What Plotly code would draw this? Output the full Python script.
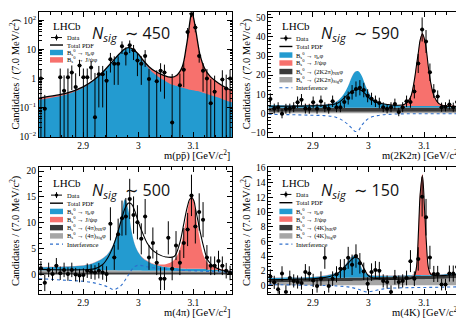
import plotly.graph_objects as go

# The page is shown with an 8 px body margin, so the figure is drawn 8 px smaller
# and every layout position below is given in screenshot pixels minus that margin.
SCREEN_W, SCREEN_H = 464, 323
MARGIN = 8
W, H = SCREEN_W - MARGIN, SCREEN_H - MARGIN
SERIF = "Liberation Serif"
SANS = "Open Sans, DejaVu Sans"

# ---------------- histogram binning (2.82-3.17 GeV, 7 MeV bins) ----------------
BIN_LO = 2.82
BIN_W = 0.007
NBINS = 50
BIN_CENTERS = [round(BIN_LO + BIN_W * (k + 0.5), 4) for k in range(NBINS)]

# ---------------- panel 1 : m(p pbar), log scale ----------------
P1_DATA = [1.0, 0.09, None, None, None, 1.1, 0.38, 1.1, 1.6, 0.51,
           2.8, 1.1, 1.1, 2.4, 0.046, 1.4, 1.4, 0.84, 4.6, 3.2,
           3.2, 13, 7.3, 14, 9.3, 4.2, 3.2, 6.0, 0.95, None,
           0.8, 1.85, 1.6, None, 0.03, None, 0.58, 2.0, 40, 170,
           57, 6.0, 1.85, 1.0, 0.14, 0.35, None, 0.92, 0.45, 1.0]
P1_ERR = [1.0, 0.18, 0, 0, 0, 1.1, 0.9, 1.1, 1.2, 1.0,
          1.6, 1.1, 1.1, 1.5, 1.5, 1.3, 1.3, 1.0, 3.0, 2.6,
          2.6, 6.0, 4.5, 6.5, 5.0, 3.0, 2.6, 3.5, 1.2, 0,
          1.1, 1.5, 1.4, 0, 1.4, 0, 0.9, 1.5, 15, 40,
          18, 2.5, 1.5, 1.1, 0.8, 0.9, 0, 1.0, 0.9, 1.0]
P1_M = [2.820, 2.850, 2.870, 2.900, 2.920, 2.935, 2.950, 2.965, 2.975, 2.982,
        2.990, 3.000, 3.010, 3.020, 3.030, 3.045, 3.060, 3.070, 3.080, 3.087,
        3.091, 3.094, 3.097, 3.100, 3.103, 3.107, 3.112, 3.120, 3.130, 3.145,
        3.160, 3.170]
P1_TOTAL = [0.21, 0.26, 0.31, 0.51, 0.9, 1.6, 3.3, 6.8, 10.3, 11.5,
            10.3, 7.0, 4.0, 2.5, 1.8, 1.3, 1.1, 1.3, 2.6, 12,
            38, 100, 195, 130, 65, 22, 6.5, 2.3, 1.2, 0.7,
            0.47, 0.38]
P1_ETAC = [0.18, 0.23, 0.28, 0.48, 0.87, 1.56, 3.2, 6.7, 10.1, 11.3,
           10.0, 6.6, 3.6, 2.1, 1.4, 0.9, 0.62, 0.55, 0.48, 0.44,
           0.42, 0.41, 0.40, 0.39, 0.38, 0.37, 0.35, 0.31, 0.27, 0.22,
           0.17, 0.15]
P1_YTICKS = [0.01, 0.1, 1, 10, 100]
P1_YTICKTEXT = ["10<sup>\u22122</sup>", "10<sup>\u22121</sup>", "1", "10", "10<sup>2</sup>"]

# ---------------- common mass grid for fitted curves of panels 2-4 ----------------
G = [2.820, 2.840, 2.860, 2.880, 2.900, 2.920, 2.935, 2.945, 2.955, 2.963,
     2.970, 2.976, 2.982, 2.988, 2.994, 3.000, 3.008, 3.016, 3.025, 3.035,
     3.050, 3.065, 3.075, 3.082, 3.086, 3.090, 3.093, 3.097, 3.101, 3.104,
     3.108, 3.112, 3.118, 3.126, 3.135, 3.150, 3.170]

# ---------------- panel 2 : m(2K2pi) ----------------
P2_DATA = [7.5, 2.5, 3.2, -0.2, 2.4, 2.5, 3.2, 5.8, 7.1, 2.5,
           2.4, 5.8, 2.4, 6.3, 3.2, 2.4, 6.3, 3.2, 3.2, 6.0,
           8.0, 11.0, 12.7, 13.4, 12.2, 9.2, 7.6, 6.3, 5.4, 3.2,
           2.4, 3.2, 4.9, 0.7, 3.2, 6.3, 5.9, 11.4, 26.1, 43.9,
           37.6, 21.5, 11.7, 8.8, 3.2, 3.4, 4.6, 3.2, 5.9, 2.5]
P2_ERR = [3.0, 2.6, 2.6, 2.4, 2.6, 2.6, 2.6, 3.0, 3.0, 2.6,
          2.6, 3.0, 2.6, 3.0, 2.6, 2.6, 3.0, 2.6, 2.6, 3.2,
          3.4, 3.8, 4.0, 4.0, 3.8, 3.4, 3.2, 3.0, 2.8, 2.6,
          2.4, 2.6, 2.8, 2.2, 2.6, 3.0, 3.0, 3.6, 5.0, 6.3,
          6.0, 4.6, 3.6, 3.2, 2.4, 2.4, 2.6, 2.4, 2.8, 2.4]
P2_SIG = [0.8] * 37
P2_NR = [2.9, 2.9, 2.9, 2.9, 2.9, 2.9, 2.9, 2.9, 2.9, 2.9,
         2.9, 2.9, 2.9, 2.9, 2.95, 2.95, 2.95, 2.95, 2.95, 2.95,
         2.95, 3.0, 3.0, 3.0, 3.0, 3.0, 3.0, 3.0, 3.0, 3.0,
         3.0, 3.0, 3.0, 3.0, 3.0, 3.0, 3.0]
P2_ETAC = [4.2, 4.2, 4.25, 4.3, 4.4, 4.6, 5.3, 6.6, 9.8, 14.0,
           19.0, 21.8, 22.0, 19.5, 15.0, 11.2, 7.6, 6.0, 5.1, 4.6,
           4.2, 4.0, 3.9, 3.8, 3.8, 3.8, 3.8, 3.8, 3.8, 3.8,
           3.8, 3.8, 3.8, 3.8, 3.8, 3.9, 4.0]
P2_JPSI = [4.3, 4.3, 4.35, 4.4, 4.5, 4.7, 5.4, 6.7, 9.9, 14.1,
           19.1, 21.9, 22.1, 19.6, 15.1, 11.3, 7.7, 6.1, 5.2, 4.7,
           4.4, 4.9, 8.5, 17, 25, 33, 39, 42, 39, 34,
           24, 16.5, 9.5, 5.5, 4.4, 4.1, 4.1]
P2_TOTAL = [3.7, 3.7, 3.75, 3.8, 3.9, 4.1, 4.6, 5.4, 7.7, 9.8,
            11.6, 12.4, 12.6, 11.8, 10.3, 8.3, 6.8, 5.7, 5.0, 4.6,
            4.2, 4.7, 8.0, 16.5, 24.5, 32.5, 38.5, 41.5, 38.5, 33.5,
            23.5, 16.0, 9.0, 5.2, 4.0, 3.6, 3.4]
P2_INTERF = [-0.5, -0.6, -0.7, -0.85, -1.0, -1.2, -1.6, -2.4, -4.0, -5.8,
             -7.8, -9.5, -9.0, -6.2, -4.2, -2.7, -1.7, -1.2, -0.8, -0.55,
             -0.35, -0.25, -0.2, -0.2, -0.2, -0.2, -0.2, -0.2, -0.2, -0.2,
             -0.2, -0.2, -0.2, -0.2, -0.2, -0.2, -0.2]

# ---------------- panel 3 : m(4pi) ----------------
P3_DATA = [1.2, -1.6, 0.9, 0.1, 1.7, 0.25, 0.9, 0.1, 0.9, 0.0,
           -0.2, -0.1, 0.75, 0.55, 0.4, 0.75, 0.4, 0.1, 9.8, 3.3,
           7.8, 10.9, 11.2, 14.6, 11.5, 10.1, 6.9, 11.2, 3.3, 6.1,
           2.3, -0.8, -0.8, 7.1, 1.1, 5.6, 2.3, 6.1, 8.7, 15.3,
           9.3, 12.1, 10.6, 3.3, 1.7, 1.7, 2.6, 1.7, 0.75, 0.3]
P3_ERR = [1.4, 1.6, 1.4, 1.3, 1.5, 1.3, 1.4, 1.3, 1.4, 1.3,
          1.3, 1.3, 1.4, 1.4, 1.4, 1.5, 1.4, 1.5, 3.2, 2.4,
          3.0, 3.4, 3.6, 3.9, 3.6, 3.3, 3.0, 3.4, 2.4, 3.0,
          2.4, 2.2, 2.2, 3.2, 2.2, 2.8, 2.4, 2.9, 3.2, 4.0,
          3.3, 3.6, 3.4, 2.4, 1.8, 1.8, 2.0, 1.8, 1.5, 1.4]
P3_NR = [0.45] * 37
P3_SIG = [0.85, 0.85, 0.84, 0.84, 0.83, 0.82, 0.82, 0.81, 0.81, 0.8,
          0.8, 0.79, 0.79, 0.78, 0.78, 0.77, 0.76, 0.75, 0.74, 0.73,
          0.72, 0.7, 0.69, 0.68, 0.68, 0.67, 0.67, 0.66, 0.66, 0.66,
          0.65, 0.65, 0.64, 0.63, 0.62, 0.61, 0.6]
P3_ETAC = [1.4, 1.45, 1.5, 1.6, 1.75, 2.3, 3.1, 4.0, 5.9, 8.5,
           11.8, 14.6, 12.5, 8.3, 5.7, 4.3, 3.2, 2.6, 2.1, 1.8,
           1.45, 1.3, 1.2, 1.15, 1.1, 1.1, 1.1, 1.1, 1.1, 1.1,
           1.1, 1.1, 1.1, 1.0, 0.95, 0.85, 0.75]
P3_JPSI = [1.45, 1.5, 1.55, 1.65, 1.8, 2.35, 3.15, 4.05, 5.95, 8.55,
           11.85, 14.65, 12.55, 8.35, 5.75, 4.35, 3.3, 2.7, 2.2, 2.0,
           2.0, 2.8, 4.8, 8.0, 10.3, 12.8, 14.3, 15.3, 14.0, 11.6,
           9.0, 6.6, 3.8, 2.2, 1.5, 1.05, 0.8]
P3_TOTAL = [1.0, 0.95, 0.9, 0.9, 0.92, 1.1, 1.9, 3.3, 5.6, 8.2,
            10.8, 12.8, 13.8, 13.6, 12.2, 10.2, 8.0, 6.1, 4.8, 4.0,
            3.4, 3.5, 6.0, 9.5, 11.7, 13.5, 14.5, 14.9, 14.2, 12.6,
            10.5, 8.4, 5.6, 2.8, 1.7, 0.9, 0.45]
P3_INTERF = [-0.8, -0.9, -1.05, -1.15, -1.3, -1.6, -2.0, -2.4, -2.9, -2.6,
             -2.0, -1.1, -0.1, 0.9, 1.55, 1.8, 1.7, 1.5, 1.35, 1.2,
             1.05, 0.95, 0.85, 0.8, 0.78, 0.76, 0.75, 0.74, 0.73, 0.72,
             0.7, 0.68, 0.65, 0.6, 0.56, 0.5, 0.45]

# ---------------- panel 4 : m(4K) ----------------
P4_DATA = [1.2, 0.4, -0.55, 1.6, -0.9, 1.0, 0.6, 0.45, 0.3, 1.8,
           1.6, 0.67, -0.1, 0.9, 3.75, -0.1, 0.9, 1.5, 2.25, 2.3,
           3.75, 2.8, 4.0, 3.0, 1.9, 0.2, 1.8, 2.1, 2.0, 0.6,
           0.45, -0.9, 1.1, 0.45, 0.6, 1.0, 3.3, 0.9, 3.6, 12.1,
           9.3, 3.8, 1.55, 1.55, 0.1, 0.1, 1.6, 1.6, 2.5, 2.8]
P4_ERR = [1.0, 0.9, 0.9, 1.0, 0.9, 1.0, 0.9, 0.9, 0.9, 1.1,
          1.0, 0.9, 0.9, 1.0, 1.5, 0.9, 1.0, 1.1, 1.3, 1.3,
          1.5, 1.4, 1.6, 1.4, 1.2, 0.9, 1.2, 1.2, 1.2, 0.9,
          0.9, 0.9, 1.0, 0.9, 0.9, 1.0, 1.5, 1.0, 1.6, 2.7,
          2.5, 1.6, 1.1, 1.1, 0.8, 0.8, 1.1, 1.1, 1.3, 1.4]
P4_SIG = [0.4, 0.42, 0.45, 0.48, 0.5, 0.53, 0.55, 0.57, 0.58, 0.59,
          0.6, 0.61, 0.62, 0.63, 0.64, 0.65, 0.66, 0.68, 0.7, 0.72,
          0.75, 0.78, 0.8, 0.81, 0.82, 0.83, 0.83, 0.84, 0.84, 0.85,
          0.85, 0.86, 0.87, 0.89, 0.91, 0.95, 1.0]
P4_NR = [0.85, 0.87, 0.9, 0.93, 0.95, 0.98, 1.0, 1.02, 1.03, 1.04,
         1.05, 1.06, 1.07, 1.08, 1.09, 1.1, 1.11, 1.13, 1.15, 1.17,
         1.2, 1.23, 1.25, 1.26, 1.27, 1.28, 1.28, 1.29, 1.29, 1.3,
         1.3, 1.31, 1.32, 1.34, 1.36, 1.4, 1.45]
P4_ETAC = [1.0, 1.02, 1.05, 1.08, 1.12, 1.3, 1.55, 1.7, 2.45, 3.3,
           3.9, 4.1, 3.6, 2.3, 1.7, 1.45, 1.35, 1.32, 1.3, 1.3,
           1.32, 1.35, 1.37, 1.38, 1.39, 1.4, 1.4, 1.41, 1.41, 1.42,
           1.42, 1.43, 1.44, 1.46, 1.5, 1.58, 1.7]
P4_JPSI = [1.03, 1.05, 1.08, 1.11, 1.15, 1.33, 1.58, 1.73, 2.48, 3.33,
           3.93, 4.13, 3.63, 2.33, 1.73, 1.48, 1.38, 1.35, 1.33, 1.33,
           1.35, 1.38, 1.41, 1.5, 2.6, 8.0, 13.0, 15.2, 10.4, 6.4,
           2.5, 1.7, 1.5, 1.49, 1.53, 1.61, 1.73]
P4_TOTAL = [0.75, 0.78, 0.82, 0.86, 0.9, 1.05, 1.3, 1.65, 2.35, 3.0,
            3.55, 3.85, 3.65, 2.9, 2.0, 1.3, 1.0, 0.92, 0.88, 0.85,
            0.82, 0.85, 0.9, 1.2, 2.3, 7.5, 12.5, 15.0, 10.2, 6.0,
            2.3, 1.5, 1.35, 1.3, 1.32, 1.4, 1.55]
P4_INTERF = [0.1, 0.08, 0.05, 0.02, 0.0, -0.03, -0.05, -0.1, -0.15, -0.22,
             -0.3, -0.42, -0.55, -0.72, -0.88, -0.9, -0.8, -0.65, -0.52, -0.42,
             -0.36, -0.33, -0.32, -0.31, -0.31, -0.3, -0.3, -0.3, -0.3, -0.3,
             -0.29, -0.29, -0.28, -0.27, -0.25, -0.23, -0.2]

# ---------------- text ----------------
NSIG = ["450", "590", "500", "150"]
XTITLES = ["m(pp\u0304) [GeV/c<sup>2</sup>]", "m(2K2\u03c0) [GeV/c<sup>2</sup>]",
           "m(4\u03c0) [GeV/c<sup>2</sup>]", "m(4K) [GeV/c<sup>2</sup>]"]
YTITLE = "Candidates / (7.0 MeV/c<sup>2</sup>)"
FINALS = [None, "2K2\u03c0", "4\u03c0", "4K"]
BS = "B<sub>s</sub><sup>0</sup> \u2192 "
TILDE = "<span style='font-family:DejaVu Sans'>\u223c</span>"

# ---------------- colours ----------------
BLUE = "#239bd0"
RED = "#f7716d"
DARK = "#3a3a3a"
LIGHT = "#a6a6a6"
INTC = "#2f6fcc"

fig = go.Figure()


def px(x):
    return min(max((x - MARGIN) / W, 0.0), 1.0)


def py(y):
    return min(max(1 - (y - MARGIN) / H, 0.0), 1.0)


def data_trace(vals, errs, xa, ya):
    return go.Scatter(
        x=BIN_CENTERS, y=vals, mode="markers", xaxis=xa, yaxis=ya,
        marker=dict(color="black", size=4),
        error_y=dict(type="data", array=errs, color="black", thickness=1, width=0),
        error_x=dict(type="constant", value=BIN_W / 2, color="black", thickness=1, width=0),
        showlegend=False, hoverinfo="skip")


# ----- panel 1 (log) -----
fig.add_trace(go.Scatter(x=P1_M, y=P1_TOTAL, mode="lines", line=dict(width=0, shape="spline"),
                         fill="tozeroy", fillcolor=RED, xaxis="x", yaxis="y",
                         showlegend=False, hoverinfo="skip"))
fig.add_trace(go.Scatter(x=P1_M, y=P1_ETAC, mode="lines", line=dict(width=0, shape="spline"),
                         fill="tozeroy", fillcolor=BLUE, xaxis="x", yaxis="y",
                         showlegend=False, hoverinfo="skip"))
fig.add_trace(go.Scatter(x=P1_M, y=P1_TOTAL, mode="lines",
                         line=dict(color="black", width=1.3, shape="spline"),
                         xaxis="x", yaxis="y", showlegend=False, hoverinfo="skip"))
fig.add_trace(data_trace(P1_DATA, P1_ERR, "x", "y"))

# ----- panels 2-4 (linear) -----
LIN = [
    ("x2", "y2", [(P2_SIG, LIGHT), (P2_NR, DARK)], P2_ETAC, P2_JPSI, P2_TOTAL, P2_INTERF, P2_DATA, P2_ERR),
    ("x3", "y3", [(P3_NR, DARK), (P3_SIG, LIGHT)], P3_ETAC, P3_JPSI, P3_TOTAL, P3_INTERF, P3_DATA, P3_ERR),
    ("x4", "y4", [(P4_SIG, LIGHT), (P4_NR, DARK)], P4_ETAC, P4_JPSI, P4_TOTAL, P4_INTERF, P4_DATA, P4_ERR),
]
for xa, ya, grays, etac, jpsi, total, interf, dat, err in LIN:
    layers = grays + [(etac, BLUE), (jpsi, RED)]
    for i, (top, col) in enumerate(layers):
        fig.add_trace(go.Scatter(x=G, y=top, mode="lines", line=dict(width=0, shape="spline"),
                                 fill="tozeroy" if i == 0 else "tonexty", fillcolor=col,
                                 xaxis=xa, yaxis=ya, showlegend=False, hoverinfo="skip"))
    fig.add_trace(go.Scatter(x=G, y=interf, mode="lines",
                             line=dict(color=INTC, width=1.1, dash="dot", shape="spline"),
                             xaxis=xa, yaxis=ya, showlegend=False, hoverinfo="skip"))
    fig.add_trace(go.Scatter(x=G, y=total, mode="lines",
                             line=dict(color="black", width=1.1, shape="spline"),
                             xaxis=xa, yaxis=ya, showlegend=False, hoverinfo="skip"))
    fig.add_trace(data_trace(dat, err, xa, ya))

# ---------------- axes ----------------
X1 = [px(39), px(232)]
X2 = [px(268.4), px(463)]
YT = [py(136.7), py(8.5)]
YB = [py(298), py(168)]

tickfont = dict(family=SERIF, size=9.5, color="black")


def xcfg(domain, anchor):
    return dict(domain=domain, anchor=anchor, range=[2.82, 3.17],
                tickmode="array", tickvals=[2.9, 3.0, 3.1], ticktext=["2.9", "3", "3.1"],
                ticks="inside", ticklen=5, tickwidth=1, tickcolor="black",
                showline=True, linecolor="black", linewidth=1, mirror="allticks",
                showgrid=False, zeroline=False, tickfont=tickfont,
                minor=dict(ticks="inside", ticklen=2.5, tickcolor="black", tickwidth=1,
                           tickmode="linear", tick0=2.82, dtick=0.02, showgrid=False))


def ycfg(domain, anchor, rng, dtick, mdtick):
    return dict(domain=domain, anchor=anchor, range=rng, dtick=dtick, tick0=0,
                ticks="inside", ticklen=5, tickwidth=1, tickcolor="black",
                showline=True, linecolor="black", linewidth=1, mirror="allticks",
                showgrid=False, zeroline=False, tickfont=tickfont,
                minor=dict(ticks="inside", ticklen=2.5, tickcolor="black", tickwidth=1,
                           dtick=mdtick, showgrid=False))


log_minor = [m * 10 ** e for e in range(-2, 3) for m in range(2, 10) if m * 10 ** e < 190]
y1 = dict(domain=YT, anchor="x", type="log", range=[-2.02, 2.275],
          tickmode="array", tickvals=P1_YTICKS, ticktext=P1_YTICKTEXT,
          ticks="inside", ticklen=5, tickwidth=1, tickcolor="black",
          showline=True, linecolor="black", linewidth=1, mirror="allticks",
          showgrid=False, zeroline=False, tickfont=tickfont,
          minor=dict(ticks="inside", ticklen=2.5, tickcolor="black", tickwidth=1,
                     tickmode="array", tickvals=log_minor, showgrid=False))

fig.update_layout(
    width=W, height=H, autosize=False,
    margin=dict(l=0, r=0, t=0, b=0),
    paper_bgcolor="white", plot_bgcolor="white",
    showlegend=False,
    xaxis=xcfg(X1, "y"), yaxis=y1,
    xaxis2=xcfg(X2, "y2"), yaxis2=ycfg(YT, "x2", [-12.4, 52.8], 10, 2),
    xaxis3=xcfg(X1, "y3"), yaxis3=ycfg(YB, "x3", [-3.7, 20.7], 5, 1),
    xaxis4=xcfg(X2, "y4"), yaxis4=ycfg(YB, "x4", [-1.15, 16.1], 2, 0.5),
)

# ---------------- annotations & legends ----------------
ann = []
shapes = []
PANELS = [
    dict(left=39, right=232, top=6.7, bottom=136.7, rows=[34.3, 42.0, 49.7, 57.3]),
    dict(left=268.4, right=463, top=6.7, bottom=136.7, rows=[35, 43.5, 52.3, 60.5, 69.3, 77.7, 86]),
    dict(left=39, right=232, top=168, bottom=298, rows=[196.5, 204.8, 213.3, 221.7, 230, 238.5, 247]),
    dict(left=268.4, right=463, top=168, bottom=298, rows=[195.8, 204.3, 213.3, 221.2, 230, 238.5, 247]),
]
for i, p in enumerate(PANELS):
    L = p["left"]
    ann.append(dict(x=px(L + 12), y=py(p["top"] + 16), xref="paper", yref="paper",
                    text="LHCb", showarrow=False, xanchor="left", yanchor="middle",
                    font=dict(family=SERIF, size=11, color="black")))
    ann.append(dict(x=px(L + 50.5), y=py(p["top"] + 23.5), xref="paper", yref="paper",
                    text="<i>N</i><sub><i>sig</i></sub>  " + TILDE + " " + NSIG[i], showarrow=False,
                    xanchor="left", yanchor="middle",
                    font=dict(family=SANS, size=16, color="#111111")))
    ann.append(dict(x=px(p["right"]), y=py(p["bottom"] + 18.5), xref="paper", yref="paper",
                    text=XTITLES[i], showarrow=False, xanchor="right", yanchor="middle",
                    font=dict(family=SERIF, size=10.5, color="black")))
    ann.append(dict(x=px(L - 24.5 if i % 2 == 0 else L - 23), y=py((p["top"] + p["bottom"]) / 2),
                    xref="paper", yref="paper", text=YTITLE, textangle=-90, showarrow=False,
                    xanchor="center", yanchor="middle",
                    font=dict(family=SERIF, size=10.5, color="black")))
    entries = [("data", "Data"), ("line", "Total PDF"),
               ("box:" + BLUE, BS + "\u03b7<sub>c</sub>\u03c6"),
               ("box:" + RED, BS + "J/\u03c8\u03c6")]
    if FINALS[i]:
        entries += [("box:" + DARK, BS + "(" + FINALS[i] + ")<sub>NR</sub>\u03c6"),
                    ("box:" + LIGHT, BS + "(" + FINALS[i] + ")<sub>Sig</sub>\u03c6"),
                    ("dot", "Interference")]
    sx0, sx1 = L + 11, L + 24
    for (kind, label), ry in zip(entries, p["rows"]):
        cx = (sx0 + sx1) / 2
        if kind == "data":
            shapes.append(dict(type="line", xref="paper", yref="paper", x0=px(sx0 + 1), x1=px(sx1 - 1),
                               y0=py(ry), y1=py(ry), line=dict(color="black", width=1)))
            shapes.append(dict(type="line", xref="paper", yref="paper", x0=px(cx), x1=px(cx),
                               y0=py(ry - 3), y1=py(ry + 3), line=dict(color="black", width=1)))
            shapes.append(dict(type="circle", xref="paper", yref="paper", x0=px(cx - 1.7), x1=px(cx + 1.7),
                               y0=py(ry + 1.7), y1=py(ry - 1.7), fillcolor="black",
                               line=dict(color="black", width=0)))
        elif kind == "line":
            shapes.append(dict(type="line", xref="paper", yref="paper", x0=px(sx0), x1=px(sx1),
                               y0=py(ry), y1=py(ry), line=dict(color="black", width=1.4)))
        elif kind == "dot":
            shapes.append(dict(type="line", xref="paper", yref="paper", x0=px(sx0), x1=px(sx1),
                               y0=py(ry), y1=py(ry), line=dict(color=INTC, width=1.1, dash="dot")))
        else:
            shapes.append(dict(type="rect", xref="paper", yref="paper", x0=px(sx0), x1=px(sx1),
                               y0=py(ry + 2.8), y1=py(ry - 2.8), fillcolor=kind[4:],
                               line=dict(width=0)))
        ann.append(dict(x=px(sx1 + 2), y=py(ry), xref="paper", yref="paper", text=label,
                        showarrow=False, xanchor="left", yanchor="middle",
                        font=dict(family=SERIF, size=6.5, color="black")))

fig.update_layout(annotations=ann, shapes=shapes)
fig.write_html("out.html")
